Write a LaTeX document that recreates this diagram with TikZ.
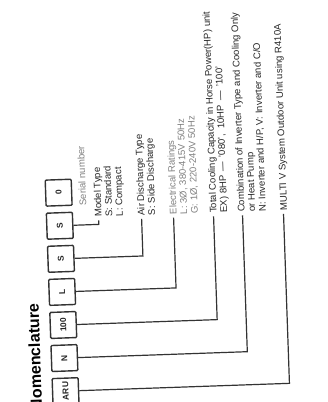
\documentclass[tikz,border=0pt]{standalone}
\usepackage{fontspec}
\setmainfont{Liberation Sans}
\usetikzlibrary{positioning}
\tikzset{
  digit/.style={draw=black!80, line width=1.4pt, rounded corners=1pt, minimum width=26pt, minimum height=26pt, inner sep=0pt, rotate=90, transform shape, font=\fontsize{8.5}{9}\selectfont\bfseries, text=black!85},
  lab/.style={anchor=north west, inner sep=0pt, align=left, rotate=90, transform shape, font=\fontsize{9.6}{10.6}\selectfont, text=black!85},
  greylab/.style={lab, text=black!50},
  lead/.style={draw=black!80, line width=1.2pt},
  title/.style={anchor=base east, inner sep=0pt, rotate=90, transform shape, font=\fontsize{16}{18}\selectfont\bfseries}
}

\begin{document}
\begin{tikzpicture}[x=1pt, y=-1pt]
  \useasboundingbox (0,0) rectangle (328,402);
  \begin{scope}[rotate around={2:(164,201)}]
    \node[title] (ttl) at (35,299) {Nomenclature};
    % code boxes
    \node[digit] (bSerial) at (59,189) {0};
    \node[digit] (bModel) at (59,222.1) {S};
    \node[digit] (bAir) at (59,255.2) {S};
    \node[digit] (bElec) at (59,288.3) {L};
    \node[digit] (bCap) at (59,321.4) {100};
    \node[digit] (bComb) at (59,354.5) {N};
    \node[digit] (bUnit) at (59,387.6) {ARU};
    % texts
    \node[greylab] (lSerial) at (79,203) {Serial number};
    \node[lab] (lModel) at (94,215) {Model Type\\S: Standard\\L: Compact};
    \node[lab] (lAir) at (137,215) {Air Discharge Type\\S: Side Discharge};
    \node[greylab] (lElec) at (169,215) {Electrical Ratings\\L: 3Ø, 380-415V 50Hz\\G: 1Ø, 220-240V 50Hz};
    \node[lab] (lCap) at (209,215) {Total Cooling Capacity in Horse Power(HP) unit\\EX) 8HP \,—\, '080', \ 10HP \,—\, '100'};
    \node[lab] (lComb) at (237,215) {Combination of Inverter Type and Cooling Only\\or Heat Pump\\N: Inverter and H/P, V: Inverter and C/O};
    \node[lab] (lUnit) at (279.5,215) {MULTI V System Outdoor Unit using R410A};
    % lead lines
    \coordinate (eModel) at (98,218);
    \coordinate (eAir) at (141,218);
    \coordinate (eElec) at (173,218);
    \coordinate (eCap) at (213,218);
    \coordinate (eComb) at (242,218);
    \coordinate (eUnit) at (283,218);
    \draw[lead] (bModel.south) -| (eModel);
    \draw[lead] (bAir.south) -| (eAir);
    \draw[lead] (bElec.south) -| (eElec);
    \draw[lead] (bCap.south) -| (eCap);
    \draw[lead] (bComb.south) -| (eComb);
    \draw[lead] (bUnit.south) -| (eUnit);
  \end{scope}
\end{tikzpicture}
\end{document}
